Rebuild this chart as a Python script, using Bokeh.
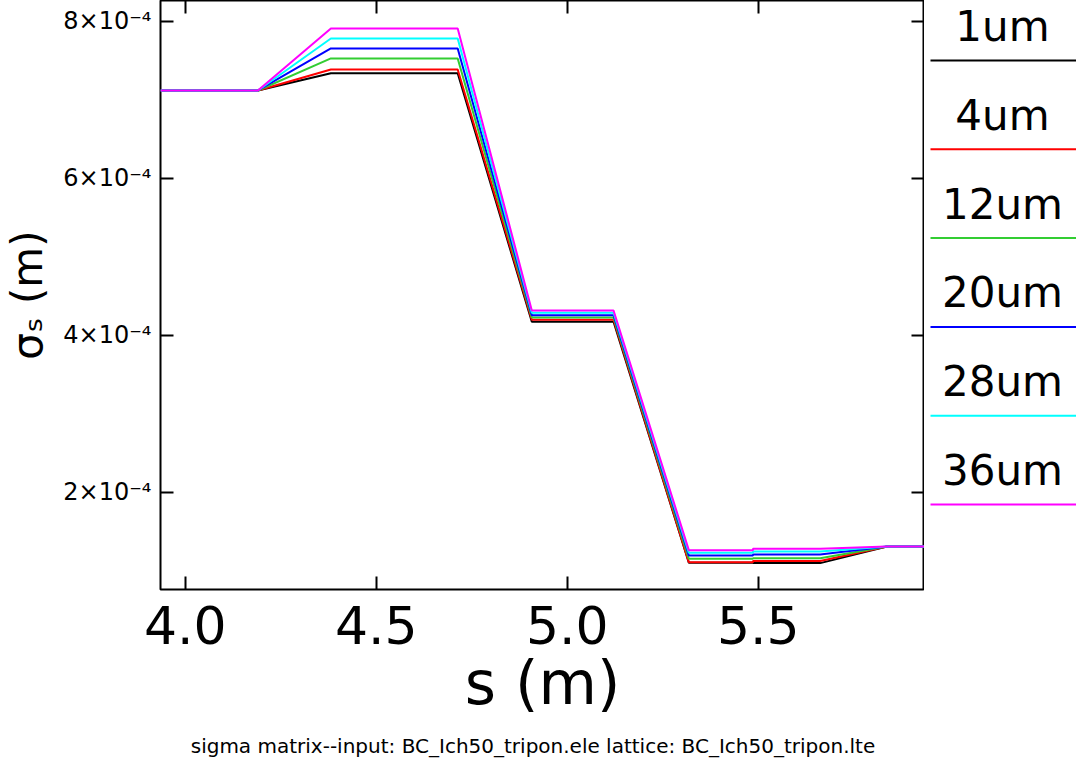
from bokeh.plotting import figure
from bokeh.models import Range1d, LinearAxis, FixedTicker, Title
from bokeh.layouts import row
from bokeh.embed import file_html
from bokeh.resources import INLINE
from bokeh.core.properties import value

# ---------------- data ----------------
s_m = [3.935, 4.190, 4.381, 4.713, 4.907, 5.121, 5.318, 5.486, 5.486, 5.662, 5.837, 5.935]

sigma_1um = [7.121e-4, 7.121e-4, 7.341e-4, 7.341e-4, 4.174e-4, 4.174e-4, 1.106e-4, 1.106e-4, 1.100e-4, 1.100e-4, 1.312e-4, 1.312e-4]
sigma_4um = [7.121e-4, 7.121e-4, 7.389e-4, 7.389e-4, 4.200e-4, 4.200e-4, 1.112e-4, 1.112e-4, 1.127e-4, 1.127e-4, 1.312e-4, 1.312e-4]
sigma_12um = [7.121e-4, 7.121e-4, 7.529e-4, 7.529e-4, 4.229e-4, 4.229e-4, 1.155e-4, 1.155e-4, 1.163e-4, 1.163e-4, 1.312e-4, 1.312e-4]
sigma_20um = [7.121e-4, 7.121e-4, 7.656e-4, 7.656e-4, 4.259e-4, 4.259e-4, 1.197e-4, 1.197e-4, 1.210e-4, 1.210e-4, 1.312e-4, 1.312e-4]
sigma_28um = [7.121e-4, 7.121e-4, 7.783e-4, 7.783e-4, 4.289e-4, 4.289e-4, 1.232e-4, 1.232e-4, 1.248e-4, 1.248e-4, 1.312e-4, 1.312e-4]
sigma_36um = [7.121e-4, 7.121e-4, 7.911e-4, 7.911e-4, 4.318e-4, 4.318e-4, 1.265e-4, 1.265e-4, 1.283e-4, 1.283e-4, 1.312e-4, 1.312e-4]

series_labels = ["1um", "4um", "12um", "20um", "28um", "36um"]
series_colors = ["#000000", "#FF0000", "#32CD32", "#0000FF", "#00FFFF", "#FF00FF"]
series_values = [sigma_1um, sigma_4um, sigma_12um, sigma_20um, sigma_28um, sigma_36um]

x_ticks = [4.0, 4.5, 5.0, 5.5]
x_tick_labels = ["4.0", "4.5", "5.0", "5.5"]
y_ticks = [2e-4, 4e-4, 6e-4, 8e-4]
y_tick_labels = ["2×10⁻⁴", "4×10⁻⁴", "6×10⁻⁴", "8×10⁻⁴"]

x_label = "s (m)"
y_label = "σₛ (m)"
subtitle = "sigma matrix--input: BC_Ich50_tripon.ele    lattice: BC_Ich50_tripon.lte"

FONT = "DejaVu Sans"

# ---------------- main plot ----------------
p = figure(frame_width=764, frame_height=589,
           x_range=Range1d(3.935, 5.935), y_range=Range1d(0.764e-4, 8.267e-4),
           output_backend="svg", toolbar_location=None,
           min_border_left=157, min_border_top=0, min_border_right=0, min_border_bottom=0,
           background_fill_color="white", border_fill_color="white")
p.xgrid.visible = False
p.ygrid.visible = False
p.outline_line_color = "black"
p.outline_line_width = 2

# bottom axis
xa = p.xaxis[0]
xa.ticker = FixedTicker(ticks=x_ticks)
xa.major_label_overrides = dict(zip(x_ticks, x_tick_labels))
xa.major_label_text_font = FONT
xa.major_label_text_font_size = "52px"
xa.major_label_standoff = 16
xa.axis_label = x_label
xa.axis_label_text_font = FONT
xa.axis_label_text_font_size = "60px"
xa.axis_label_text_font_style = "normal"
xa.axis_label_standoff = 1

# left axis
ya = p.yaxis[0]
ya.ticker = FixedTicker(ticks=y_ticks)
ya.major_label_overrides = dict(zip(y_ticks, y_tick_labels))
ya.major_label_text_font = FONT
ya.major_label_text_font_size = "24px"
ya.major_label_standoff = 9
ya.axis_label = y_label
ya.axis_label_text_font = FONT
ya.axis_label_text_font_size = "42px"
ya.axis_label_text_font_style = "normal"
ya.axis_label_standoff = 8

for ax in (xa, ya):
    ax.axis_line_color = None
    ax.major_tick_in = 13
    ax.major_tick_out = 0
    ax.major_tick_line_width = 2
    ax.major_tick_line_color = "black"
    ax.minor_tick_line_color = None
    ax.major_label_text_color = "black"
    ax.axis_label_text_color = "black"

# top and right axes: inward ticks only
top_ax = LinearAxis(ticker=FixedTicker(ticks=x_ticks),
                    major_label_overrides={t: "" for t in x_ticks})
right_ax = LinearAxis(ticker=FixedTicker(ticks=y_ticks),
                      major_label_overrides={t: "" for t in y_ticks})
for ax in (top_ax, right_ax):
    ax.axis_line_color = None
    ax.major_tick_in = 13
    ax.major_tick_out = 0
    ax.major_tick_line_width = 2
    ax.minor_tick_line_color = None
    ax.major_label_standoff = 0
    ax.major_label_text_font_size = "1px"
p.add_layout(top_ax, "above")
p.add_layout(right_ax, "right")

for vals, col in zip(series_values, series_colors):
    p.line(s_m, vals, line_color=col, line_width=2)

t = Title(text=subtitle, align="center", text_font=FONT, text_font_size="20px",
          text_font_style="normal", text_color="black", standoff=22)
p.add_layout(t, "below")

# ---------------- legend panel ----------------
LW, LH = 153, 760
leg = figure(frame_width=LW, frame_height=LH, x_range=Range1d(0, LW), y_range=Range1d(LH, 0),
             output_backend="svg", toolbar_location=None,
             x_axis_location=None, y_axis_location=None, min_border=0,
             outline_line_color=None, background_fill_color="white", border_fill_color="white")
leg.xgrid.visible = False
leg.ygrid.visible = False

n = len(series_labels)
line_y = [60 + 88.8 * i for i in range(n)]
leg.segment(x0=[6] * n, y0=line_y, x1=[LW] * n, y1=line_y,
            line_color=series_colors, line_width=2)
leg.text(x=[78] * n, y=[y - 34 for y in line_y], text=series_labels,
         text_align="center", text_baseline="alphabetic",
         text_font=value(FONT), text_font_size="42px", text_color="black")

layout = row(p, leg)
open("out.html", "w").write(file_html(layout, INLINE))
